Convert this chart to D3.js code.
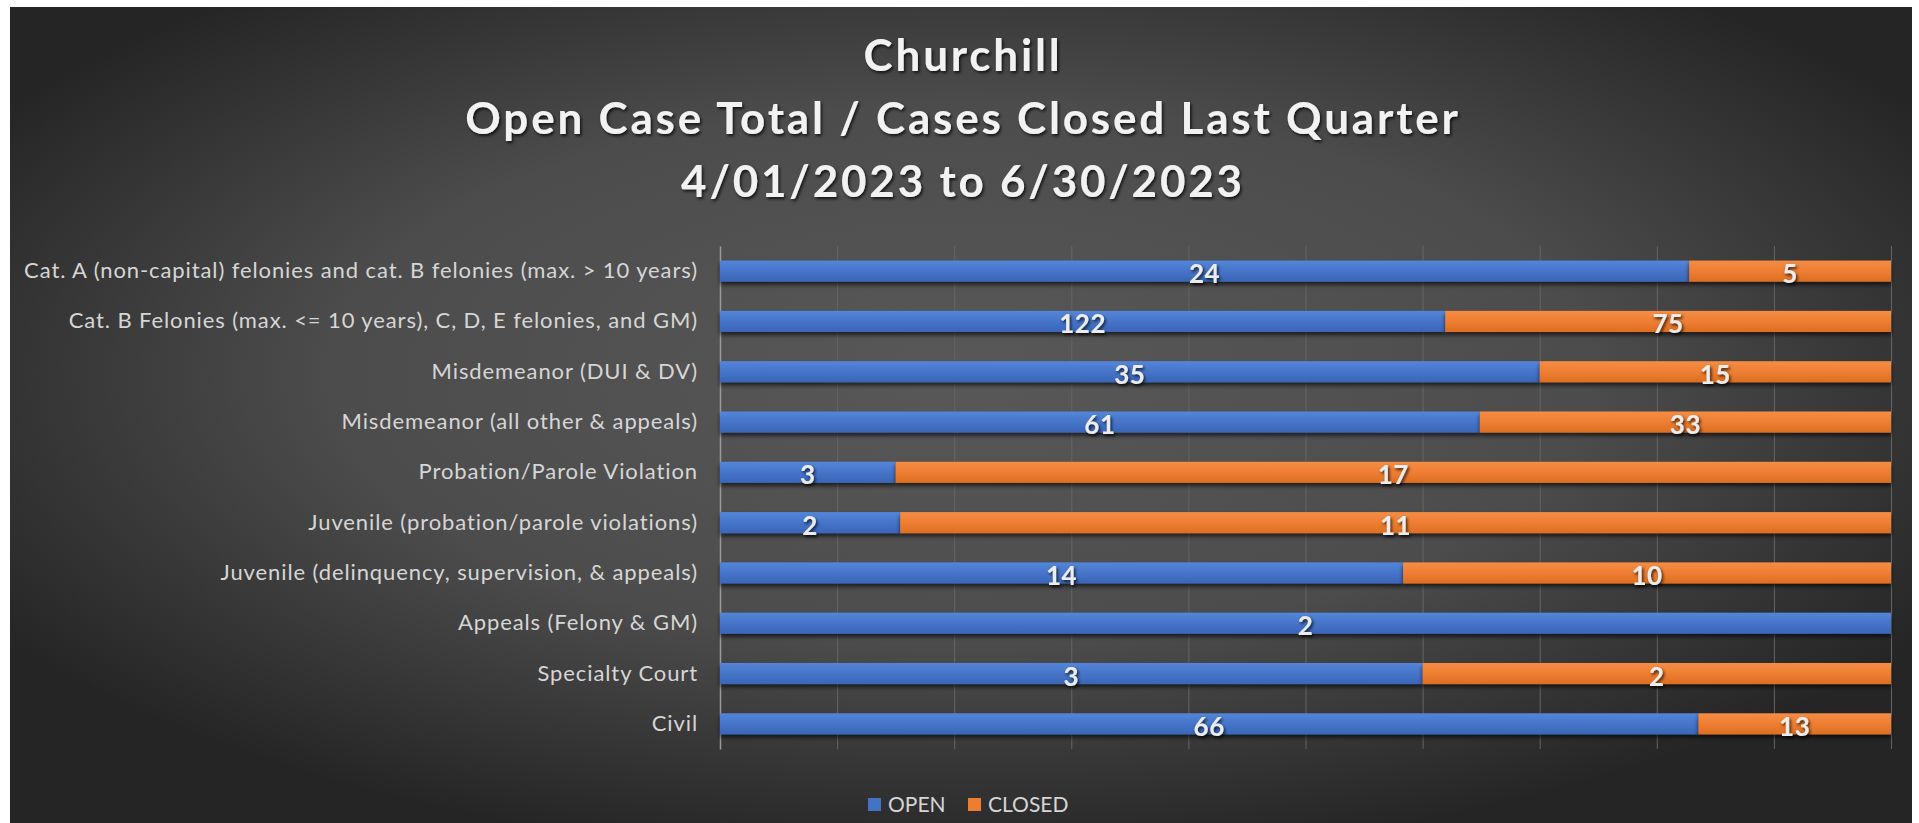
<!DOCTYPE html>
<html>
<head>
<meta charset="utf-8">
<script src="https://cdn.jsdelivr.net/npm/d3@7"></script>
<style>
  html, body { margin: 0; padding: 0; background: #ffffff; }
  #chart { display: block; }
</style>
</head>
<body>
<svg id="chart"></svg>
<script>
// values
const titleLines = ["Churchill", "Open Case Total / Cases Closed Last Quarter", "4/01/2023 to 6/30/2023"];
const categories = [
  "Cat. A (non-capital) felonies and cat. B felonies (max. > 10 years)",
  "Cat. B Felonies (max. <= 10 years), C, D, E felonies, and GM)",
  "Misdemeanor (DUI & DV)",
  "Misdemeanor (all other & appeals)",
  "Probation/Parole Violation",
  "Juvenile (probation/parole violations)",
  "Juvenile (delinquency, supervision, & appeals)",
  "Appeals (Felony & GM)",
  "Specialty Court",
  "Civil"
];
const openCases = [24, 122, 35, 61, 3, 2, 14, 2, 3, 66];
const closedCases = [5, 75, 15, 33, 17, 11, 10, 0, 2, 13];
const seriesNames = ["OPEN", "CLOSED"];
const gridTicks = [0, 0.1, 0.2, 0.3, 0.4, 0.5, 0.6, 0.7, 0.8, 0.9, 1];

const W = 1919, H = 823;
const margin = {left: 720, right: 28, top: 246, bottom: 74};
const font = "Lato, 'Open Sans', sans-serif";

const svg = d3.select("#chart").attr("width", W).attr("height", H);
const defs = svg.append("defs");

const bg = defs.append("radialGradient").attr("id", "bg")
    .attr("cx", "50%").attr("cy", "45%").attr("r", "60%");
bg.append("stop").attr("offset", "0%").attr("stop-color", "#585858");
bg.append("stop").attr("offset", "55%").attr("stop-color", "#4c4c4c");
bg.append("stop").attr("offset", "100%").attr("stop-color", "#252525");

function barGrad(id, top, mid, bot) {
    const g = defs.append("linearGradient").attr("id", id)
        .attr("x1", 0).attr("y1", 0).attr("x2", 0).attr("y2", 1);
    g.append("stop").attr("offset", "0%").attr("stop-color", top);
    g.append("stop").attr("offset", "50%").attr("stop-color", mid);
    g.append("stop").attr("offset", "100%").attr("stop-color", bot);
}
barGrad("gOpen", "#5386da", "#4674c8", "#3a66b8");
barGrad("gClosed", "#f58d45", "#ee7e32", "#dc6e22");

defs.append("filter").attr("id", "barShadow")
    .attr("x", "-5%").attr("y", "-50%").attr("width", "110%").attr("height", "220%")
  .append("feDropShadow").attr("dx", 0).attr("dy", 3).attr("stdDeviation", 2.2)
    .attr("flood-color", "#000").attr("flood-opacity", 0.65);
defs.append("filter").attr("id", "textShadow")
    .attr("x", "-10%").attr("y", "-30%").attr("width", "120%").attr("height", "160%")
  .append("feDropShadow").attr("dx", 1.5).attr("dy", 2).attr("stdDeviation", 1.5)
    .attr("flood-color", "#000").attr("flood-opacity", 0.75);

svg.append("rect").attr("x", 10).attr("y", 7).attr("width", 1902).attr("height", H - 7)
    .attr("fill", "url(#bg)");

// title
svg.append("g").attr("filter", "url(#textShadow)")
  .selectAll("text").data(titleLines).join("text")
    .attr("x", 963).attr("y", (d, i) => 71 + i * 63)
    .attr("text-anchor", "middle")
    .attr("font-family", font)
    .attr("font-weight", "bold")
    .attr("font-size", 44)
    .attr("letter-spacing", 2.8)
    .attr("fill", "#f2f2f2")
    .text(d => d);

const x = d3.scaleLinear().domain([0, 1]).range([margin.left, W - margin.right]);
const y = d3.scaleBand().domain(categories)
    .range([margin.top, H - margin.bottom])
    .paddingInner(0.58).paddingOuter(0.29);

// gridlines
svg.append("g")
    .attr("transform", `translate(0,${H - margin.bottom})`)
    .call(d3.axisBottom(x).tickValues(gridTicks).tickSize(-(H - margin.bottom - margin.top)).tickFormat(""))
    .call(g => g.select(".domain").remove())
    .call(g => g.selectAll(".tick line").attr("stroke", "#656565").attr("stroke-width", 1));

// category axis
svg.append("g")
    .attr("transform", `translate(${margin.left},0)`)
    .call(d3.axisLeft(y).tickSize(0).tickPadding(22))
    .call(g => g.select(".domain").attr("stroke", "#9a9a9a").attr("stroke-width", 1.5))
    .call(g => g.selectAll(".tick text")
        .attr("fill", "#d6d6d6")
        .attr("font-family", font)
        .attr("font-size", 22)
        .attr("letter-spacing", 0.9));

const rows = categories.map((c, i) => ({cat: c, OPEN: openCases[i], CLOSED: closedCases[i]}));
const stack = d3.stack().keys(seriesNames).offset(d3.stackOffsetExpand);
const series = stack(rows);
const fills = {OPEN: "url(#gOpen)", CLOSED: "url(#gClosed)"};

const layer = svg.append("g").selectAll("g").data(series).join("g")
    .attr("fill", d => fills[d.key])
    .attr("filter", "url(#barShadow)");
layer.selectAll("rect").data(d => d).join("rect")
    .attr("x", d => x(d[0]))
    .attr("y", d => y(d.data.cat))
    .attr("width", d => x(d[1]) - x(d[0]))
    .attr("height", y.bandwidth());

// data labels
const labels = [];
series.forEach(s => s.forEach(d => {
    const v = d.data[s.key];
    if (v > 0) labels.push({v, cx: (x(d[0]) + x(d[1])) / 2, cy: y(d.data.cat) + y.bandwidth() / 2});
}));
svg.append("g").attr("filter", "url(#textShadow)")
  .selectAll("text").data(labels).join("text")
    .attr("x", d => d.cx).attr("y", d => d.cy + 12)
    .attr("text-anchor", "middle")
    .attr("font-family", font)
    .attr("font-weight", "bold")
    .attr("font-size", 26)
    .attr("letter-spacing", 0.5)
    .attr("fill", "#ececec")
    .text(d => d.v);

// legend
const legendColors = ["#4472c4", "#ed7d31"];
const legendX = [868, 968];
const lg = svg.append("g").selectAll("g").data(seriesNames).join("g")
    .attr("transform", (d, i) => `translate(${legendX[i]},798)`);
lg.append("rect").attr("width", 13).attr("height", 13).attr("fill", (d, i) => legendColors[i]);
lg.append("text").attr("x", 20).attr("y", 14)
    .attr("font-family", font)
    .attr("font-size", 21)
    .attr("fill", "#d6d6d6")
    .text(d => d);
</script>
</body>
</html>
